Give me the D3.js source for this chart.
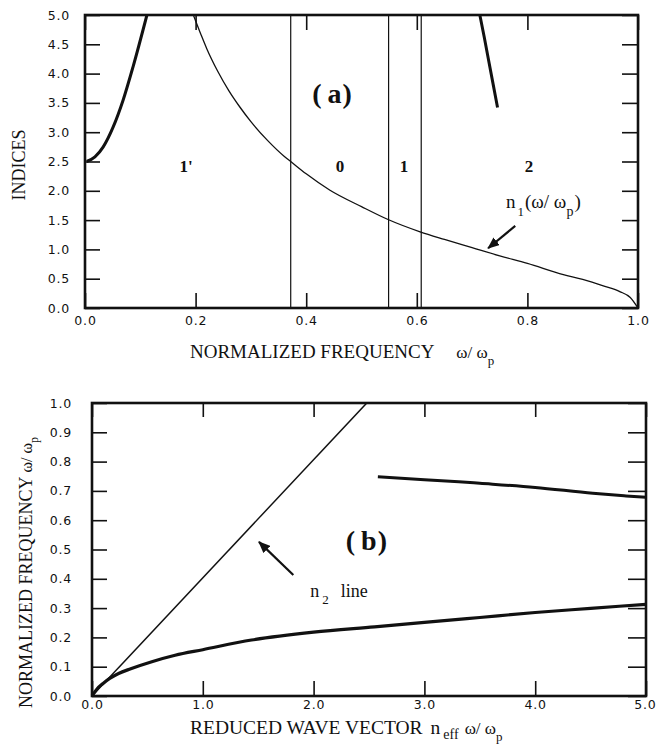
<!DOCTYPE html>
<html><head><meta charset="utf-8">
<script src="https://cdn.jsdelivr.net/npm/d3@7"></script>
<style>
body{margin:0;background:#fff;}
svg{display:block;}
.tick text{font-family:"DejaVu Sans",sans-serif;font-size:12.5px;letter-spacing:0.8px;fill:#111;}
.title{font-family:"Liberation Serif","Times New Roman",serif;fill:#111;}
</style></head><body>
<script>
// ---------- DATA ----------
// Panel (a): indices vs normalized frequency
const topXTicks = [0, 0.2, 0.4, 0.6, 0.8, 1.0];
const topYTicks = [0, 0.5, 1.0, 1.5, 2.0, 2.5, 3.0, 3.5, 4.0, 4.5, 5.0];
const n1Freq  = [0.196,0.21,0.22,0.24,0.26,0.28,0.30,0.33,0.36,0.372,0.40,0.443,0.50,0.548,0.606,0.65,0.70,0.75,0.80,0.865,0.90,0.94,0.967,0.986,1.0];
const n1Index = [5.0,4.66,4.43,4.04,3.71,3.43,3.18,2.86,2.59,2.50,2.29,2.01,1.73,1.51,1.30,1.17,1.03,0.89,0.76,0.57,0.49,0.37,0.28,0.18,0.0];
const leftFreq  = [0.003,0.018,0.033,0.051,0.069,0.087,0.112];
const leftIndex = [2.50,2.58,2.75,3.09,3.55,4.12,5.0];
const rightFreq  = [0.714,0.722,0.730,0.738,0.746];
const rightIndex = [5.0,4.62,4.22,3.82,3.42];
const cutoffs = [0.372, 0.549, 0.608];
const regionNames = ["1'", "0", "1", "2"];
const regionFreq  = [0.183, 0.461, 0.577, 0.803];

// Panel (b): normalized frequency vs reduced wave vector
const botXTicks = [0, 1.0, 2.0, 3.0, 4.0, 5.0];
const botYTicks = [0, 0.1, 0.2, 0.3, 0.4, 0.5, 0.6, 0.7, 0.8, 0.9, 1.0];
const n2K = [0, 2.48];
const n2W = [0, 1.0];
const lowK = [0,0.03,0.06,0.1,0.16,0.24,0.35,0.54,0.75,1.0,1.44,2.0,2.55,3.0,3.5,4.0,4.5,5.0];
const lowW = [0,0.016,0.03,0.043,0.06,0.077,0.093,0.117,0.139,0.158,0.191,0.218,0.236,0.251,0.268,0.285,0.299,0.313];
const upK = [2.58,3.0,3.31,3.5,4.0,4.52,4.82,5.0];
const upW = [0.748,0.738,0.731,0.726,0.712,0.692,0.683,0.678];

// ---------- DRAW ----------
const W = 656, H = 753;
const svg = d3.select("body").append("svg").attr("width", W).attr("height", H);
const fmt = d3.format(".1f");

svg.append("defs").append("marker")
  .attr("id","ah").attr("viewBox","0 0 12 10").attr("refX",11).attr("refY",5)
  .attr("markerWidth",12).attr("markerHeight",10).attr("markerUnits","userSpaceOnUse")
  .attr("orient","auto")
  .append("path").attr("d","M0,0 L12,5 L0,10 Z").attr("fill","#111");

function panel(g, x, y, xt, yt, tl){
  const [x0,x1] = x.range(), [y0,y1] = y.range();
  const ax = (a, sel, ticks, size, labels, pad) => {
    const axis = a.tickValues(ticks).tickSize(-size).tickPadding(pad)
      .tickFormat(labels ? fmt : "");
    sel.call(axis);
    sel.select(".domain").remove();
    sel.selectAll(".tick line").attr("stroke","#111").attr("stroke-width",1.6);
    return sel;
  };
  const bx = ax(d3.axisBottom(x), g.append("g").attr("transform",`translate(0,${y0})`), xt, tl.b, true, tl.bp);
  ax(d3.axisTop(x), g.append("g").attr("transform",`translate(0,${y1})`), xt, tl.t, false, 3);
  ax(d3.axisLeft(y), g.append("g").attr("transform",`translate(${x0},0)`), yt, tl.l, true, tl.lp);
  ax(d3.axisRight(y), g.append("g").attr("transform",`translate(${x1},0)`), yt, tl.r, false, 3);
  g.selectAll(".tick text").attr("fill","#111");
  g.append("rect").attr("x",x0).attr("y",y1).attr("width",x1-x0).attr("height",y0-y1)
    .attr("fill","none").attr("stroke","#111").attr("stroke-width",2.6);
  return bx;
}

// ----- Panel (a) -----
const xa = d3.scaleLinear().domain([0,1]).range([85,638]);
const ya = d3.scaleLinear().domain([0,5]).range([308,15]);
const ga = svg.append("g");
const lineA = (xs, ys) => d3.line().x((d,i)=>xa(xs[i])).y((d,i)=>ya(ys[i])).curve(d3.curveMonotoneX)(xs);

ga.selectAll("line.cut").data(cutoffs).join("line")
  .attr("x1",d=>xa(d)).attr("x2",d=>xa(d)).attr("y1",ya(0)).attr("y2",ya(5))
  .attr("stroke","#111").attr("stroke-width",1.2);
ga.append("path").attr("d", lineA(n1Freq, n1Index)).attr("fill","none").attr("stroke","#111").attr("stroke-width",1.3);
ga.append("path").attr("d", lineA(leftFreq, leftIndex)).attr("fill","none").attr("stroke","#111").attr("stroke-width",3);
ga.append("path").attr("d", d3.line().x((d,i)=>xa(rightFreq[i])).y((d,i)=>ya(rightIndex[i]))(rightFreq))
  .attr("fill","none").attr("stroke","#111").attr("stroke-width",3);

panel(ga, xa, ya, topXTicks, topYTicks, {b:15,t:15,l:15,r:16,bp:8,lp:15});

ga.selectAll("text.reg").data(regionNames).join("text").attr("class","title")
  .attr("x",(d,i)=>xa(regionFreq[i])).attr("y",ya(2.32)).attr("text-anchor","middle")
  .attr("font-size",17).attr("font-weight","bold").text(d=>d);

const la = ga.append("text").attr("class","title").attr("x",xa(0.411)).attr("y",ya(3.5))
  .attr("font-size",28).attr("font-weight","bold");
la.append("tspan").text("(");
la.append("tspan").attr("dx",6).text("a");
la.append("tspan").attr("dx",1).text(")");

const n1t = ga.append("text").attr("class","title").attr("x",506).attr("y",208).attr("font-size",19);
n1t.append("tspan").text("n");
n1t.append("tspan").attr("dy",8).attr("dx",2).attr("font-size",13).text("1");
n1t.append("tspan").attr("dy",-8).attr("dx",1).text("(ω/ ω");
n1t.append("tspan").attr("dy",8).attr("font-size",14).text("p");
n1t.append("tspan").attr("dy",-8).attr("dx",1).text(")");

ga.append("line").attr("x1",xa(0.778)).attr("y1",ya(1.40)).attr("x2",xa(0.729)).attr("y2",ya(1.02))
  .attr("stroke","#111").attr("stroke-width",2.2).attr("marker-end","url(#ah)");

ga.append("text").attr("class","title").attr("font-size",18)
  .attr("transform","translate(25,165) rotate(-90)").attr("text-anchor","middle").text("INDICES");

const ta = ga.append("text").attr("class","title").attr("x",190).attr("y",358).attr("font-size",19);
ta.append("tspan").text("NORMALIZED FREQUENCY");
ta.append("tspan").attr("dx",22).attr("font-size",17).text("ω/ ω");
ta.append("tspan").attr("dy",7).attr("font-size",13).text("p");

// ----- Panel (b) -----
const xb = d3.scaleLinear().domain([0,5]).range([92,646]);
const yb = d3.scaleLinear().domain([0,1]).range([696,403]);
const gb = svg.append("g");
const lineB = (xs, ys) => d3.line().x((d,i)=>xb(xs[i])).y((d,i)=>yb(ys[i])).curve(d3.curveMonotoneX)(xs);

gb.append("path").attr("d", lineB(n2K, n2W)).attr("fill","none").attr("stroke","#111").attr("stroke-width",1.5);
gb.append("path").attr("d", lineB(lowK, lowW)).attr("fill","none").attr("stroke","#111").attr("stroke-width",3.2);
gb.append("path").attr("d", lineB(upK, upW)).attr("fill","none").attr("stroke","#111").attr("stroke-width",3);

const bxb = panel(gb, xb, yb, botXTicks, botYTicks, {b:15,t:14,l:15,r:18,bp:4,lp:20});
// keep last label inside the page
bxb.selectAll(".tick text").filter(d => d === 5.0).attr("text-anchor","end").attr("x",10);

const lb = gb.append("text").attr("class","title").attr("x",xb(2.29)).attr("y",yb(0.498))
  .attr("font-size",28).attr("font-weight","bold");
lb.append("tspan").text("(");
lb.append("tspan").attr("dx",6).text("b");
lb.append("tspan").attr("dx",1).text(")");

const n2t = gb.append("text").attr("class","title").attr("x",xb(1.97)).attr("y",yb(0.338)).attr("font-size",18);
n2t.append("tspan").text("n");
n2t.append("tspan").attr("dy",7).attr("dx",3).attr("font-size",13).text("2");
n2t.append("tspan").attr("dy",-7).attr("dx",12).text("line");

gb.append("line").attr("x1",xb(1.817)).attr("y1",yb(0.413)).attr("x2",xb(1.507)).attr("y2",yb(0.526))
  .attr("stroke","#111").attr("stroke-width",2.2).attr("marker-end","url(#ah)");

const tb = gb.append("text").attr("class","title").attr("x",190).attr("y",734).attr("font-size",19.5);
tb.append("tspan").text("REDUCED WAVE VECTOR");
tb.append("tspan").attr("dx",8).text("n");
tb.append("tspan").attr("dy",5).attr("dx",3).attr("font-size",14).text("eff");
tb.append("tspan").attr("dy",-5).attr("dx",6).attr("font-size",17).text("ω/ ω");
tb.append("tspan").attr("dy",7).attr("font-size",13).text("p");

const yt = gb.append("text").attr("class","title").attr("font-size",18)
  .attr("transform","translate(32,708) rotate(-90)");
yt.append("tspan").text("NORMALIZED FREQUENCY");
yt.append("tspan").attr("dx",4).attr("font-size",16).text("ω/ ω");
yt.append("tspan").attr("dy",6).attr("font-size",12).text("p");
</script>
</body></html>
